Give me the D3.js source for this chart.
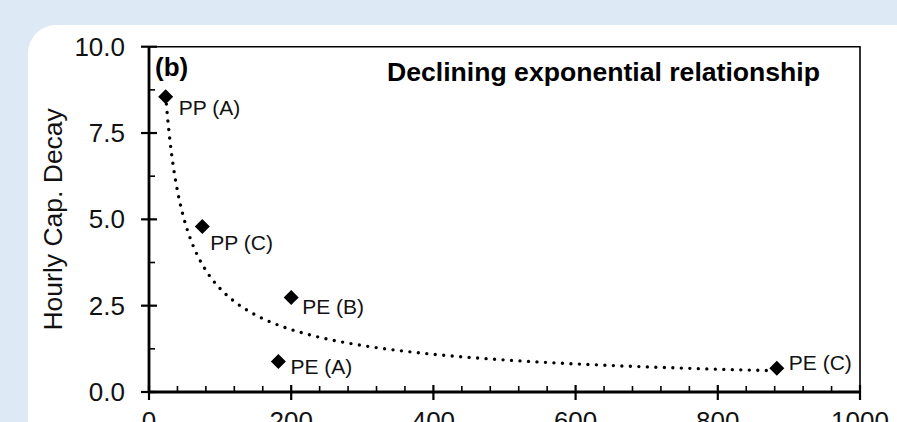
<!DOCTYPE html>
<html lang="en">
<head>
    <meta charset="UTF-8">
    <title>Hourly Cap. Decay</title>
    <script src="https://d3js.org/d3.v7.min.js"></script>
    <style>
        body { margin: 0; background: #dde9f5; }
        svg { display: block; font-family: "Liberation Sans", Arial, sans-serif; }
    </style>
</head>
<body>
<div id="chart"></div>

<script>
// data
var labels = ["PP (A)", "PP (C)", "PE (B)", "PE (A)", "PE (C)"];
var xValues = [23.5, 75, 200, 182, 883];
var yValues = [8.55, 4.79, 2.74, 0.88, 0.69];

var xTicks = [0, 200, 400, 600, 800, 1000];
var yTicks = [0, 2.5, 5, 7.5, 10];
var yTickLabels = ["0.0", "2.5", "5.0", "7.5", "10.0"];

// label placement relative to each marker (layout only)
var labelOffsets = [[13, 18], [8, 23], [11, 17], [12, 12], [12, 2]];

var width = 897, height = 422;
var plotLeft = 149, plotRight = 860, plotTop = 46.7, plotBottom = 392;

var svg = d3.select("#chart").append("svg")
    .attr("width", width).attr("height", height);

svg.append("rect").attr("width", width).attr("height", height).attr("fill", "#dde9f5");
// white panel with rounded corner
svg.append("rect")
    .attr("x", 28).attr("y", 25)
    .attr("width", 910).attr("height", 440)
    .attr("rx", 28).attr("fill", "#fff");

var x = d3.scaleLinear().domain([0, 1000]).range([plotLeft, plotRight]);
var y = d3.scaleLinear().domain([0, 10]).range([plotBottom, plotTop]);

// top and right frame
svg.append("path")
    .attr("d", "M" + plotLeft + "," + plotTop + "H" + plotRight + "V" + plotBottom)
    .attr("fill", "none").attr("stroke", "#000").attr("stroke-width", 1.6);

// minor ticks (inside)
var xMinor = d3.range(0, 1001, 40).filter(function(d) { return d % 200 !== 0; });
var yMinor = [1.25, 3.75, 6.25, 8.75];
svg.selectAll(".xminor").data(xMinor).enter().append("line")
    .attr("x1", x).attr("x2", x).attr("y1", plotBottom - 6).attr("y2", plotBottom)
    .attr("stroke", "#000").attr("stroke-width", 1.6);
svg.selectAll(".yminor").data(yMinor).enter().append("line")
    .attr("y1", y).attr("y2", y).attr("x1", plotLeft).attr("x2", plotLeft + 6)
    .attr("stroke", "#000").attr("stroke-width", 1.6);

// major ticks cross the axis
svg.selectAll(".xmajor").data(xTicks).enter().append("line")
    .attr("x1", x).attr("x2", x).attr("y1", plotBottom - 7).attr("y2", plotBottom + 8)
    .attr("stroke", "#000").attr("stroke-width", 2.2);
svg.selectAll(".ymajor").data(yTicks).enter().append("line")
    .attr("y1", y).attr("y2", y).attr("x1", plotLeft - 8).attr("x2", plotLeft + 8)
    .attr("stroke", "#000").attr("stroke-width", 2.2);

// axis lines
svg.append("line").attr("x1", plotLeft).attr("x2", plotRight).attr("y1", plotBottom).attr("y2", plotBottom)
    .attr("stroke", "#000").attr("stroke-width", 2.8);
svg.append("line").attr("x1", plotLeft).attr("x2", plotLeft).attr("y1", plotTop).attr("y2", plotBottom)
    .attr("stroke", "#000").attr("stroke-width", 2.8);

// tick labels
svg.selectAll(".ylab").data(yTicks).enter().append("text")
    .attr("x", 125).attr("y", function(d) { return y(d) + 9; })
    .attr("text-anchor", "end").attr("font-size", 26).attr("fill", "#111")
    .text(function(d, i) { return yTickLabels[i]; });
svg.selectAll(".xlab").data(xTicks).enter().append("text")
    .attr("x", x).attr("y", 430)
    .attr("text-anchor", "middle").attr("font-size", 26).attr("fill", "#111")
    .text(function(d) { return d; });

// axis title
svg.append("text")
    .attr("transform", "translate(62," + ((plotTop + plotBottom) / 2) + ") rotate(-90)")
    .attr("text-anchor", "middle").attr("font-size", 26.5).attr("fill", "#111")
    .text("Hourly Cap. Decay");

svg.append("text").attr("x", 155).attr("y", 76)
    .attr("font-size", 26).attr("font-weight", "bold").text("(b)");
svg.append("text").attr("x", 820).attr("y", 81)
    .attr("text-anchor", "end").attr("font-size", 26.6).attr("font-weight", "bold")
    .text("Declining exponential relationship");

// power trendline fitted to the points (least squares on logs)
var lx = xValues.map(Math.log), ly = yValues.map(Math.log);
var mx = d3.mean(lx), my = d3.mean(ly);
var b = d3.sum(lx, function(v, i) { return (v - mx) * (ly[i] - my); }) /
        d3.sum(lx, function(v) { return (v - mx) * (v - mx); });
var a = Math.exp(my - b * mx);
var x0 = d3.min(xValues), x1 = d3.max(xValues);
var trend = d3.range(0, 201).map(function(i) {
    var xv = x0 * Math.pow(x1 / x0, i / 200);
    return [xv, a * Math.pow(xv, b)];
});
svg.append("path")
    .datum(trend)
    .attr("d", d3.line().x(function(d) { return x(d[0]); }).y(function(d) { return y(d[1]); }))
    .attr("fill", "none").attr("stroke", "#000").attr("stroke-width", 3.4)
    .attr("stroke-linecap", "round").attr("stroke-dasharray", "0 8.5");

// markers
var pts = labels.map(function(l, i) { return { label: l, x: xValues[i], y: yValues[i], off: labelOffsets[i] }; });
svg.selectAll(".pt").data(pts).enter().append("path")
    .attr("transform", function(d) { return "translate(" + x(d.x) + "," + y(d.y) + ")"; })
    .attr("d", "M0,-7.5L7.5,0L0,7.5L-7.5,0Z")
    .attr("fill", "#000");
svg.selectAll(".ptlab").data(pts).enter().append("text")
    .attr("x", function(d) { return x(d.x) + d.off[0]; })
    .attr("y", function(d) { return y(d.y) + d.off[1]; })
    .attr("font-size", 21).attr("fill", "#111")
    .text(function(d) { return d.label; });
</script>

</body>
</html>
